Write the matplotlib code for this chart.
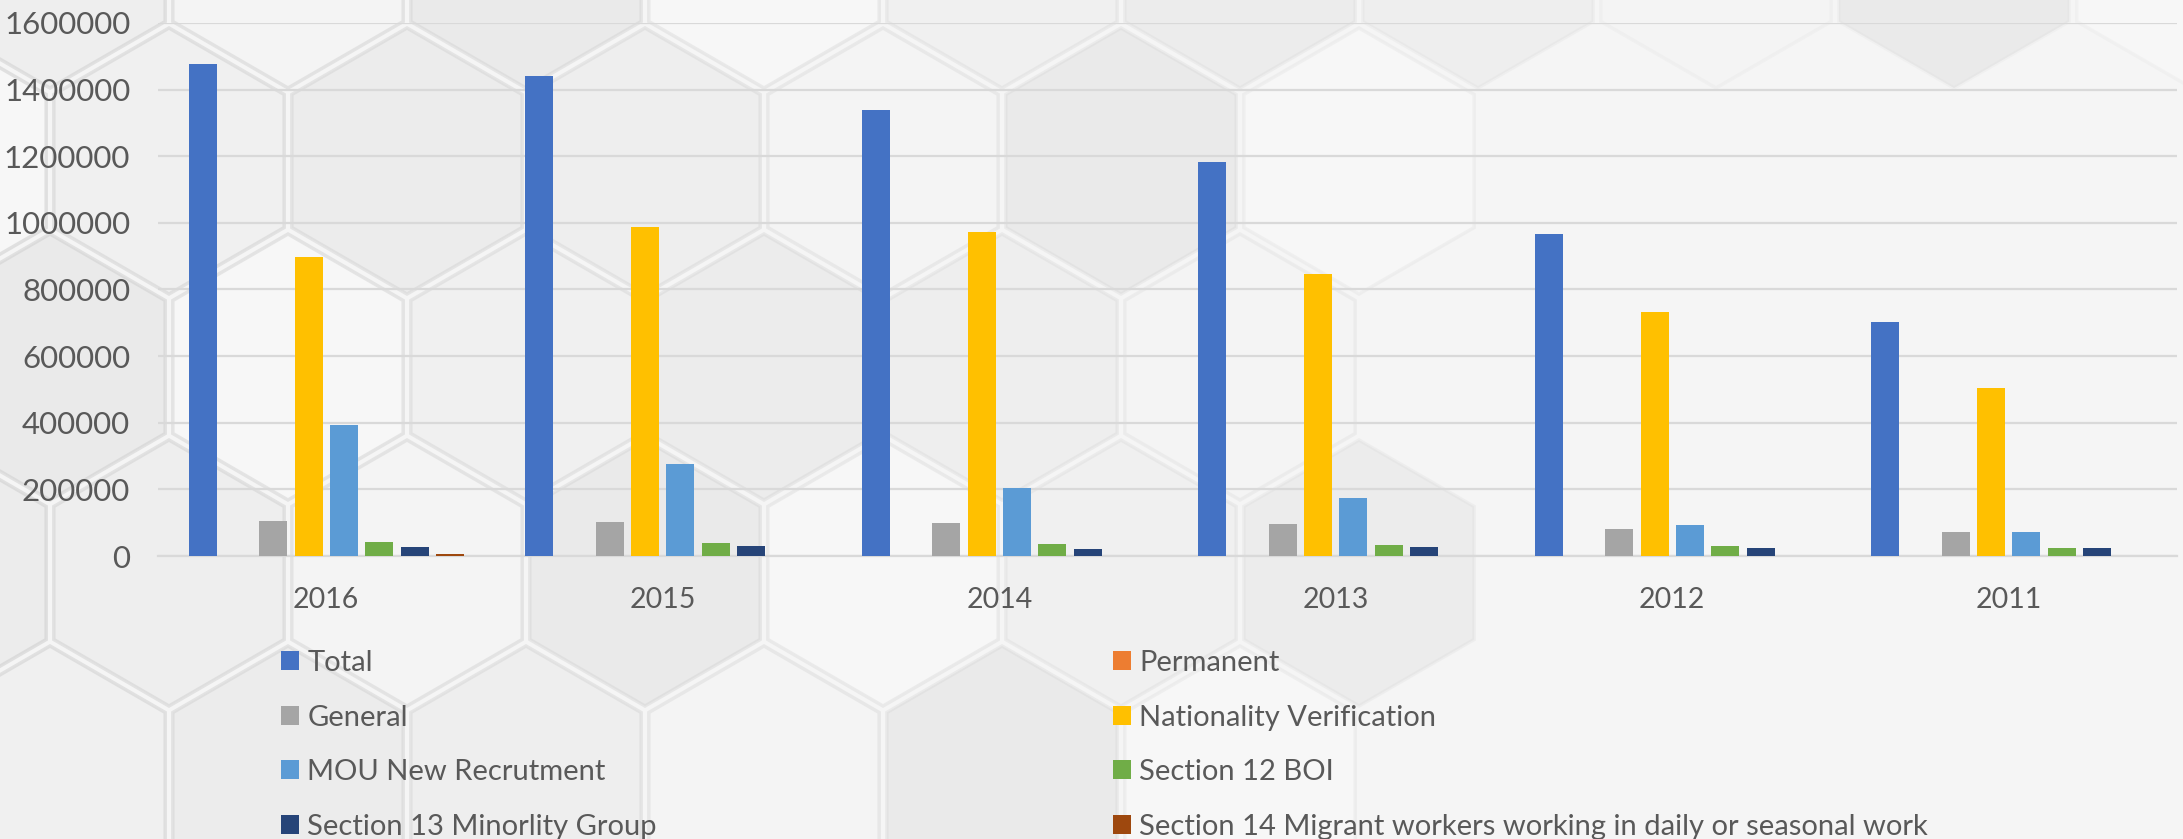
#### #### #### #### #### #### #### #### #### #### #### #### #### #### #### #### #### #### #### ####
### Import functions

import numpy as np
import matplotlib
matplotlib.use('Agg')
import matplotlib.pyplot as plt
from matplotlib.patches import RegularPolygon, Patch


#### #### #### #### #### #### #### #### #### #### #### #### #### #### #### #### #### #### #### ####
#### DATA

years = ['2016', '2015', '2014', '2013', '2012', '2011']

total = [1477000, 1442000, 1339000, 1184000, 966000, 701000]
permanent = [0, 0, 0, 0, 0, 0]
general = [105500, 102000, 100000, 96500, 81000, 72000]
nationality = [897000, 988000, 971500, 846000, 733000, 504000]
mou = [392000, 277500, 204500, 173000, 93500, 72000]
section12 = [41000, 39000, 35500, 34500, 30000, 24500]
section13 = [28000, 29000, 21000, 28000, 24500, 24500]
section14 = [6700, 0, 0, 0, 0, 0]

series_names = ['Total', 'Permanent', 'General', 'Nationality Verification',
				'MOU New Recrutment', 'Section 12 BOI', 'Section 13 Minorlity Group',
				'Section 14 Migrant workers working in daily or seasonal work']
series_values = [total, permanent, general, nationality, mou, section12, section13, section14]

y_ticks = [0, 200000, 400000, 600000, 800000, 1000000, 1200000, 1400000, 1600000]


#### #### #### #### #### #### #### #### #### #### #### #### #### #### #### #### #### #### #### ####
#### STYLE

clr = ['#4472C4', '#ED7D31', '#A5A5A5', '#FFC000', '#5B9BD5', '#70AD47', '#264478', '#9E480E']
txt_clr = '#595959'
grid_clr = '#d9d9d9'

plt.rcParams['font.family'] = ['Lato', 'DejaVu Sans']
plt.rcParams['font.size'] = 20

W_px, H_px = 2183, 839
fg = plt.figure(figsize=(W_px/100., H_px/100.), dpi=100)
fg.patch.set_facecolor('#f5f5f5')

# hexagon backdrop, fading towards the right

shades = ['#eeeeee', '#f4f4f4', '#eaeaea', '#f7f7f7', '#f0f0f0', '#ececec']
R = 137.
for row in range(-1, 6):
	for col in range(-1, 11):
		cx = 50 + col*238 + (row % 2)*119
		cy = H_px - (161 + (row-1)*206)
		fade = max(0., 1. - cx/1600.)
		if row > 0 and cx > 1450:
			continue
		hx = RegularPolygon((cx, cy), 6, radius=R-4, orientation=0,
							facecolor=shades[(row*4+col) % len(shades)],
							edgecolor=(0.80, 0.80, 0.80, 0.12+0.38*fade), linewidth=2.5,
							transform=None, zorder=-2)
		fg.add_artist(hx)


#### #### #### #### #### #### #### #### #### #### #### #### #### #### #### #### #### #### #### ####
#### PLOT

ax = fg.add_axes([158./W_px, 1-556./H_px, (2177.-158.)/W_px, (556.-22.9)/H_px])
ax.set_facecolor('none')

x = np.arange(len(years))
step = 0.105
width = 0.083

handles = []
for ii, (name, vals) in enumerate(zip(series_names, series_values)):
	ax.bar(x + (ii-3.5)*step, vals, width, color=clr[ii], zorder=3)
	handles.append(Patch(facecolor=clr[ii], label=name))

ax.set_xlim(-0.5, len(years)-0.5)
ax.set_ylim(0, 1600000)
ax.set_yticks(y_ticks)
ax.set_yticklabels([str(v) for v in y_ticks])
ax.set_xticks(x)
ax.set_xticklabels(years)

ax.yaxis.grid(True, color=grid_clr, linewidth=1.6, zorder=0)
ax.set_axisbelow(True)
for s in ['top', 'right', 'left']:
	ax.spines[s].set_visible(False)
ax.spines['bottom'].set_color(grid_clr)
ax.spines['bottom'].set_linewidth(1.6)

ax.tick_params(axis='both', length=0, colors=txt_clr)
ax.tick_params(axis='y', pad=20, labelsize=22.5)
ax.tick_params(axis='x', pad=22, labelsize=20.5)

# legend: two columns placed separately

col_a = [handles[0], handles[2], handles[4], handles[6]]
col_b = [handles[1], handles[3], handles[5], handles[7]]

for hh, xpos in [(col_a, 281.), (col_b, 1113.)]:
	lg = fg.legend(handles=hh, loc='upper left', bbox_to_anchor=(xpos/W_px, 1-650./H_px),
				   frameon=False, fontsize=21, borderaxespad=0, borderpad=0,
				   handlelength=0.6, handleheight=0.62, handletextpad=0.3,
				   labelspacing=0.98, labelcolor=txt_clr)

plt.savefig('out.png', dpi=100, facecolor=fg.get_facecolor())
